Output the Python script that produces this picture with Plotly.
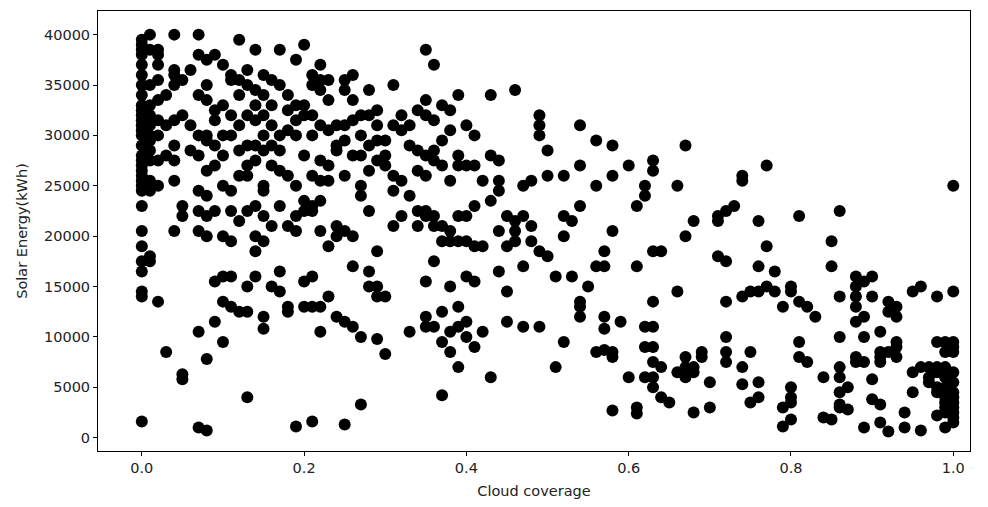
import plotly.graph_objects as go

# Cloud coverage columns (x) with the solar energy values (kWh) read at each
cols = {
    0.00: [39500, 39000, 38500, 38000, 37000, 36000, 35000, 34000, 33000, 32500, 32000, 31500, 31000, 30500, 30000, 29000, 28000, 27500, 27000, 26500, 26000, 25500, 25000, 24500, 23000, 20500, 19000, 17500, 16500, 14500, 14000, 1600],
    0.01: [40000, 38500, 35000, 33000, 32000, 31000, 30000, 29500, 28500, 27500, 25500, 24500, 18000, 17500],
    0.02: [38500, 38000, 37000, 35500, 33500, 31500, 30000, 27500, 25000, 13500],
    0.03: [34000, 31000, 28000, 8500],
    0.04: [40000, 36500, 36000, 35000, 31500, 29000, 27500, 25500, 20500],
    0.05: [35500, 32000, 23000, 22000, 6300, 5800],
    0.06: [36500, 31000, 28500],
    0.07: [40000, 38000, 34000, 30000, 28000, 24500, 22500, 20500, 10500, 1000],
    0.08: [37500, 35000, 33500, 30000, 29500, 26500, 24000, 22000, 20000, 7800, 700],
    0.09: [38000, 32500, 31500, 29000, 27000, 22500, 15500, 11500],
    0.10: [37000, 33000, 30000, 28000, 25000, 20000, 16000, 13500, 9500],
    0.11: [36000, 35500, 32000, 30000, 24500, 22500, 19500, 16000, 13000],
    0.12: [39500, 35500, 34000, 31000, 28500, 26000, 21500, 12500],
    0.13: [36500, 35000, 32000, 29000, 27000, 26000, 22500, 15000, 12500, 4000],
    0.14: [38500, 34500, 33000, 31500, 29000, 27500, 23000, 20000, 18500, 16000],
    0.15: [36000, 34000, 32000, 30000, 28500, 25000, 24500, 22000, 19500, 12000, 10800],
    0.16: [35500, 33000, 31000, 29000, 27000, 21000, 15000],
    0.17: [38500, 35000, 30000, 28500, 26500, 23000, 16500, 14500],
    0.18: [34000, 32500, 30500, 26000, 21000, 13000, 12500],
    0.19: [37500, 33000, 31500, 30000, 25000, 22000, 20500, 1100],
    0.20: [39000, 33000, 32000, 28000, 23500, 22500, 15500, 13000],
    0.21: [36000, 35000, 32000, 30000, 26000, 23000, 22500, 16000, 13000, 1600],
    0.22: [37000, 35500, 34500, 31000, 27500, 25500, 23500, 20500, 13000, 10500],
    0.23: [35500, 33500, 30500, 27000, 25500, 19000, 14000],
    0.24: [31000, 29000, 28500, 21000, 20000, 12000],
    0.25: [35500, 34500, 31000, 29500, 26000, 20500, 11500, 1300],
    0.26: [36000, 33500, 31500, 28000, 20000, 17000, 11000],
    0.27: [32000, 30000, 28000, 25000, 24000, 10000, 3300],
    0.28: [34500, 32000, 29000, 26500, 22500, 16500, 15000],
    0.29: [32500, 31000, 29500, 27500, 18500, 15000, 14000, 9800],
    0.30: [29500, 28000, 27000, 14000, 8300],
    0.31: [35000, 31000, 26000, 24500, 21000],
    0.32: [32000, 30500, 25500, 22000],
    0.33: [31000, 29000, 24000, 10500],
    0.34: [32500, 28500, 26500, 22500, 21000],
    0.35: [38500, 33500, 32000, 28000, 26000, 22500, 22000, 15500, 12000, 11000],
    0.36: [37000, 31500, 28500, 27500, 22000, 21000, 17500, 11000],
    0.37: [33000, 29500, 27000, 21000, 19500, 12500, 9500, 4200],
    0.38: [32500, 30500, 25500, 20500, 19500, 15000, 10500, 8500],
    0.39: [34000, 28000, 27000, 22000, 19500, 13000, 11000, 7000],
    0.40: [31000, 27000, 22000, 19500, 16000, 11500, 10000],
    0.41: [30000, 27000, 23000, 19000, 15500, 9000],
    0.42: [25500, 19000, 10500],
    0.43: [34000, 28000, 23500, 6000],
    0.44: [27500, 25500, 24500, 20500, 16500],
    0.45: [22000, 19000, 14500, 11500],
    0.46: [34500, 21500, 20500, 19500],
    0.47: [25000, 22000, 17000, 11000],
    0.48: [25500, 21000, 19500],
    0.49: [32000, 31000, 30000, 18500, 11000],
    0.50: [28500, 26000, 18000],
    0.51: [16000, 7000],
    0.52: [26000, 22000, 20000, 9500],
    0.53: [21500, 16000],
    0.54: [31000, 27000, 23000, 13500, 13000, 12000],
    0.55: [15000],
    0.56: [29500, 25000, 17000, 8500],
    0.57: [18500, 17000, 12000, 10800, 8700],
    0.58: [29000, 26000, 20500, 8500, 8000, 2700],
    0.59: [11500],
    0.60: [27000, 6000],
    0.61: [23000, 17000, 3000, 2400],
    0.62: [25000, 24000, 11000, 9000, 6000],
    0.63: [27500, 26500, 18500, 13500, 11000, 9000, 7500, 6000, 5000],
    0.64: [18500, 7000, 4000],
    0.65: [3500],
    0.66: [25000, 14500, 6500],
    0.67: [29000, 20000, 8000, 7000, 6000],
    0.68: [21500, 7000, 6500, 2500],
    0.69: [8500, 8000],
    0.70: [5500, 3000],
    0.71: [22000, 21500, 18000],
    0.72: [22500, 17500, 13500, 10000, 8500, 7500],
    0.73: [23000],
    0.74: [26000, 25500, 14000, 7000, 5300],
    0.75: [14500, 8500, 3500],
    0.76: [21500, 17000, 14500, 5500, 4000],
    0.77: [27000, 19000, 15000],
    0.78: [16500, 14500],
    0.79: [13000, 3000, 1100],
    0.80: [15000, 14500, 5000, 4000, 3500, 1800],
    0.81: [22000, 13500, 9500, 8000],
    0.82: [13000, 7500],
    0.83: [12000],
    0.84: [6000, 2000],
    0.85: [19500, 17000, 1800],
    0.86: [22500, 14000, 10000, 7000, 6000, 4500, 3300, 3000],
    0.87: [5000, 2800],
    0.88: [16000, 15000, 14000, 13000, 11500, 8000, 7500],
    0.89: [15500, 12000, 10000, 7500, 1000],
    0.90: [16000, 14000, 5800, 3800],
    0.91: [10500, 8500, 8000, 7500, 3300, 1500],
    0.92: [13500, 12500, 8500, 600],
    0.93: [13000, 12000, 9500, 9000, 8000],
    0.94: [2500, 1000],
    0.95: [14500, 6500, 4500],
    0.96: [15000, 7000, 700],
    0.97: [7000, 6000, 5500],
    0.98: [14000, 9500, 7000, 6500, 5000, 4500, 2200],
    0.99: [9500, 8500, 7000, 6000, 5000, 4000, 3500, 3000, 2500, 1000],
    1.00: [25000, 14500, 9500, 9000, 8500, 6500, 5500, 4500, 4000, 3500, 3000, 2500, 2000, 1500],
}

cloud_coverage = [x for x, ys in cols.items() for _ in ys]
solar_energy = [y for ys in cols.values() for y in ys]

x_ticks = [0.0, 0.2, 0.4, 0.6, 0.8, 1.0]
x_tick_labels = ["0.0", "0.2", "0.4", "0.6", "0.8", "1.0"]
y_ticks = [0, 5000, 10000, 15000, 20000, 25000, 30000, 35000, 40000]
y_tick_labels = [str(v) for v in y_ticks]

fig = go.Figure(go.Scatter(
    x=cloud_coverage, y=solar_energy, mode="markers",
    marker=dict(color="black", size=12, line=dict(width=0)),
))

font = dict(family="DejaVu Sans", size=14.5, color="#222222")
fig.update_layout(
    width=988, height=507,
    margin=dict(l=98, r=18, t=10, b=52),
    plot_bgcolor="white", paper_bgcolor="white",
    font=font, showlegend=False,
)
fig.update_xaxes(
    range=[-0.054, 1.0206], tickvals=x_ticks, ticktext=x_tick_labels,
    showgrid=False, zeroline=False, showline=True, linecolor="black", linewidth=1,
    mirror=True, ticks="outside", ticklen=4, tickcolor="black",
    title=dict(text="Cloud coverage", font=font, standoff=10),
)
fig.update_yaxes(
    range=[-1325, 42345], tickvals=y_ticks, ticktext=y_tick_labels,
    showgrid=False, zeroline=False, showline=True, linecolor="black", linewidth=1,
    mirror=True, ticks="outside", ticklen=4, tickcolor="black",
    title=dict(text="Solar Energy(kWh)", font=font, standoff=12),
)

fig.write_html("out.html")
